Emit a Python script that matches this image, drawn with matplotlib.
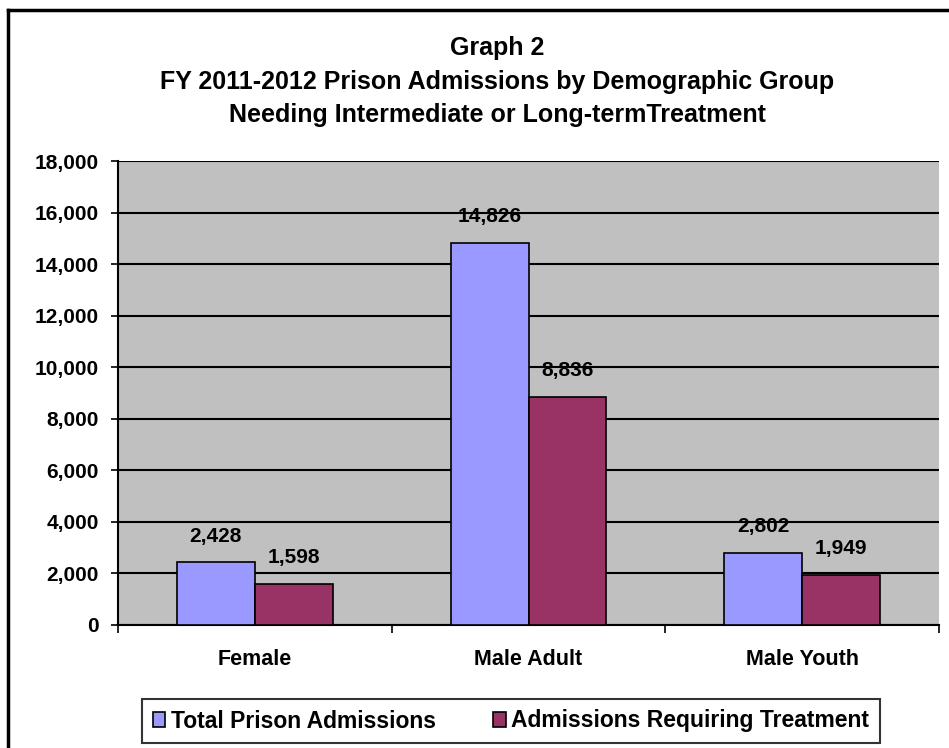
import matplotlib
matplotlib.use("Agg")
import matplotlib.pyplot as plt
import numpy as np
from matplotlib.lines import Line2D

categories = ["Female", "Male Adult", "Male Youth"]
total_admissions = [2428, 14826, 2802]
requiring_treatment = [1598, 8836, 1949]
series_names = ["Total Prison Admissions", "Admissions Requiring Treatment"]
yticks = list(range(0, 18001, 2000))

plt.rcParams['font.family'] = ['Liberation Sans', 'DejaVu Sans']
plt.rcParams['font.weight'] = 'bold'

fig = plt.figure(figsize=(9.49, 7.48), dpi=100)
fig.patch.set_facecolor('white')

# outer border (left and top visible)
bx, by = 8/949, 1 - 10/748
fig.lines.append(Line2D([bx, bx], [-0.01, by], transform=fig.transFigure, color='black', linewidth=2.5))
fig.lines.append(Line2D([bx, 1.01], [by, by], transform=fig.transFigure, color='black', linewidth=2.5))

ax = fig.add_axes([118/949, 1 - 625/748, 821/949, 464/748])
ax.set_facecolor('#C0C0C0')

x = np.arange(len(categories))
w = 0.285
b1 = ax.bar(x - w/2, total_admissions, w, color='#9999FF', edgecolor='black', linewidth=1.2, zorder=3,
            label=series_names[0])
b2 = ax.bar(x + w/2, requiring_treatment, w, color='#993366', edgecolor='black', linewidth=1.2, zorder=3,
            label=series_names[1])

for bars, vals in ((b1, total_admissions), (b2, requiring_treatment)):
    for r, v in zip(bars, vals):
        ax.annotate(f"{v:,}", (r.get_x() + r.get_width()/2, v), xytext=(0, 19), textcoords='offset points',
                    ha='center', va='center', fontsize=15, fontweight='bold', zorder=4)

ax.set_xlim(-0.5, len(categories) - 0.5)
ax.set_ylim(0, 18000)
ax.set_yticks(yticks)
ax.set_yticklabels([f"{t:,}" for t in yticks], fontsize=15, fontweight='bold')
ax.yaxis.grid(True, color='black', linewidth=1.5, zorder=1)
ax.set_axisbelow(True)

ax.set_xticks(x)
ax.set_xticklabels(categories, fontsize=15.5, fontweight='bold')
ax.tick_params(axis='x', length=0, pad=17)
ax.set_xticks(np.arange(-0.5, len(categories), 1.0), minor=True)
ax.tick_params(axis='x', which='minor', length=6, width=1.2, direction='out')
ax.tick_params(axis='y', length=5, width=1.2, direction='out', pad=9)

for s in ['top', 'right']:
    ax.spines[s].set_visible(False)
ax.spines['left'].set_linewidth(1.5)
ax.spines['bottom'].set_linewidth(1.5)

title_lines = ["Graph 2",
               "FY 2011-2012 Prison Admissions by Demographic Group",
               "Needing Intermediate or Long-termTreatment"]
for line, base in zip(title_lines, [55, 89, 122]):
    fig.text(497/949, 1 - base/748, line, ha='center', va='baseline', fontsize=18, fontweight='bold')

leg = fig.legend(handles=[b1, b2], loc='center', bbox_to_anchor=(511/949, 1 - 721/748), ncol=2,
                 frameon=True, fancybox=False, edgecolor='black', fontsize=16.5,
                 handlelength=0.55, handleheight=0.6, handletextpad=0.25, columnspacing=2.5,
                 borderpad=0.45, borderaxespad=0)
leg.get_frame().set_linewidth(1.5)
for t in leg.get_texts():
    t.set_fontweight('bold')

fig.savefig('out.png', dpi=100, facecolor='white')
